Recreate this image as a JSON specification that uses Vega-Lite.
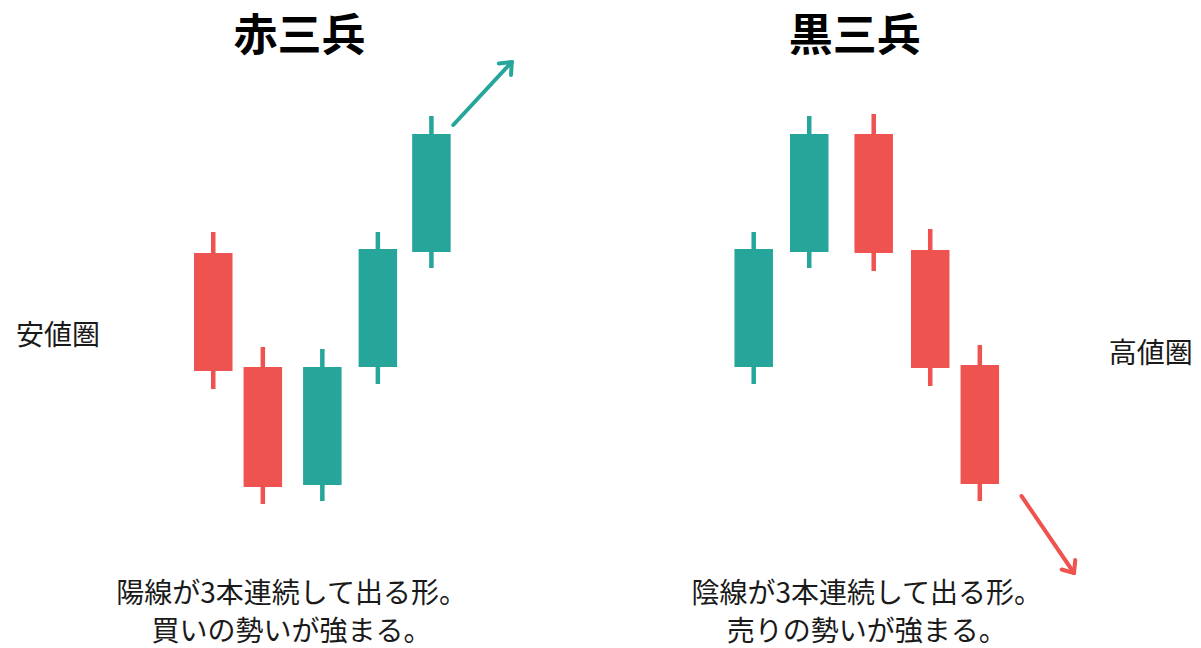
{
  "$schema": "https://vega.github.io/schema/vega-lite/v6.json",
  "width": 1201,
  "height": 648,
  "padding": 0,
  "autosize": {"type": "none"},
  "background": "white",
  "datasets": {
    "candles": [
      {"pattern": "赤三兵", "t": 210, "open": 395, "close": 277, "high": 416, "low": 259, "dir": "down"},
      {"pattern": "赤三兵", "t": 260, "open": 281, "close": 161, "high": 301, "low": 144, "dir": "down"},
      {"pattern": "赤三兵", "t": 320, "open": 163, "close": 281, "high": 299, "low": 147, "dir": "up"},
      {"pattern": "赤三兵", "t": 376, "open": 281, "close": 399, "high": 416, "low": 264, "dir": "up"},
      {"pattern": "赤三兵", "t": 430, "open": 396, "close": 514, "high": 532, "low": 380, "dir": "up"},
      {"pattern": "黒三兵", "t": 755, "open": 281, "close": 399, "high": 416, "low": 264, "dir": "up"},
      {"pattern": "黒三兵", "t": 811, "open": 396, "close": 514, "high": 532, "low": 380, "dir": "up"},
      {"pattern": "黒三兵", "t": 876, "open": 514, "close": 395, "high": 534, "low": 377, "dir": "down"},
      {"pattern": "黒三兵", "t": 933, "open": 398, "close": 280, "high": 419, "low": 262, "dir": "down"},
      {"pattern": "黒三兵", "t": 983, "open": 283, "close": 164, "high": 303, "low": 147, "dir": "down"}
    ],
    "arrows": [
      {"part": "shaft", "dir": "up", "t": 452, "p": 523, "t2": 511, "p2": 586},
      {"part": "head", "dir": "up", "t": 511, "p": 586, "t2": 498, "p2": 584.5},
      {"part": "head", "dir": "up", "t": 511, "p": 586, "t2": 510.3, "p2": 573},
      {"part": "shaft", "dir": "down", "t": 1025, "p": 152, "t2": 1078, "p2": 75},
      {"part": "head", "dir": "down", "t": 1078, "p": 75, "t2": 1079.2, "p2": 88},
      {"part": "head", "dir": "down", "t": 1078, "p": 75, "t2": 1065.5, "p2": 78.5}
    ],
    "titles": [
      {"t": 297, "p": 610, "text": "赤三兵"},
      {"t": 857, "p": 610, "text": "黒三兵"}
    ],
    "captions": [
      {"t": 289, "p": 53, "text": "陽線が3本連続して出る形。"},
      {"t": 289, "p": 15, "text": "買いの勢いが強まる。"},
      {"t": 869, "p": 53, "text": "陰線が3本連続して出る形。"},
      {"t": 869, "p": 15, "text": "売りの勢いが強まる。"}
    ],
    "zones": [
      {"t": 11, "p": 311, "text": "安値圏"},
      {"t": 1113, "p": 293, "text": "高値圏"}
    ]
  },
  "encoding": {
    "x": {"field": "t", "type": "quantitative", "axis": null, "scale": {"domain": [0, 1201], "nice": false, "zero": false}},
    "y": {"type": "quantitative", "axis": null, "scale": {"domain": [0, 648], "nice": false, "zero": false}}
  },
  "layer": [
    {
      "data": {"name": "candles"},
      "mark": {"type": "rule", "strokeWidth": 4.5},
      "encoding": {
        "y": {"field": "low", "type": "quantitative"},
        "y2": {"field": "high"},
        "color": {"field": "dir", "type": "nominal", "legend": null, "scale": {"domain": ["up", "down"], "range": ["#26a69a", "#ef5350"]}}
      }
    },
    {
      "data": {"name": "candles"},
      "mark": {"type": "bar", "size": 38.5},
      "encoding": {
        "y": {"field": "open", "type": "quantitative"},
        "y2": {"field": "close"},
        "color": {"field": "dir", "type": "nominal", "legend": null}
      }
    },
    {
      "data": {"name": "arrows"},
      "mark": {"type": "rule", "strokeWidth": 4, "strokeCap": "round"},
      "encoding": {
        "y": {"field": "p", "type": "quantitative"},
        "x2": {"field": "t2"},
        "y2": {"field": "p2"},
        "color": {"field": "dir", "type": "nominal", "legend": null}
      }
    },
    {
      "data": {"name": "titles"},
      "mark": {"type": "text", "font": "Noto Sans CJK JP", "fontSize": 44, "fontWeight": "bold", "color": "#000000", "align": "center", "baseline": "middle"},
      "encoding": {
        "y": {"field": "p", "type": "quantitative"},
        "text": {"field": "text"}
      }
    },
    {
      "data": {"name": "captions"},
      "mark": {"type": "text", "font": "Noto Sans CJK JP", "fontSize": 28, "color": "#1a1a1a", "align": "center", "baseline": "middle"},
      "encoding": {
        "y": {"field": "p", "type": "quantitative"},
        "text": {"field": "text"}
      }
    },
    {
      "data": {"name": "zones"},
      "mark": {"type": "text", "font": "Noto Sans CJK JP", "fontSize": 28, "color": "#1a1a1a", "align": "left", "baseline": "middle"},
      "encoding": {
        "y": {"field": "p", "type": "quantitative"},
        "text": {"field": "text"}
      }
    }
  ],
  "config": {
    "view": {"stroke": null}
  }
}
